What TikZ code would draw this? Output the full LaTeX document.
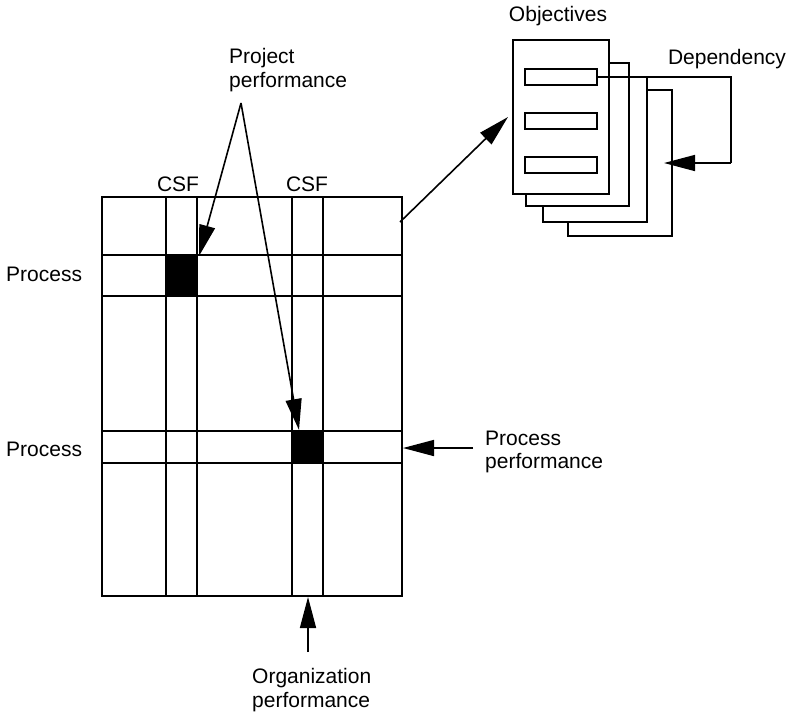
\documentclass[tikz,border=0pt]{standalone}
\usepackage{fontspec}
\setmainfont{Liberation Sans}
\usetikzlibrary{arrows.meta}
\begin{document}
\begin{tikzpicture}[x=1pt,y=-1pt,
  lbl/.style={font=\fontsize{21}{23.5}\selectfont, inner sep=0pt, align=left},
  gridline/.style={line width=2.2pt},
  ptr/.style={line width=1.6pt, -{Triangle[length=31pt,width=16pt]}},
  page/.style={draw, line width=2.2pt, fill=white, rectangle, inner sep=0pt, anchor=north west},
  slot/.style={draw, line width=2.2pt, rectangle, inner sep=0pt, minimum width=72pt, minimum height=16pt},
  cellfill/.style={fill=black},
]
\useasboundingbox (0,0) rectangle (791,716);

% ---- matrix of processes (rows) against CSFs (columns) ----
\fill[cellfill] (166,255) rectangle (197,296);
\fill[cellfill] (292,431) rectangle (323,463);
\draw[gridline] (102,197) rectangle (402,596);
\foreach \x in {166,197,292,323} \draw[gridline] (\x,197) -- (\x,596);
\foreach \y in {255,296,431,463} \draw[gridline] (102,\y) -- (402,\y);

\node[lbl, anchor=west] (proc1) at (6,274) {Process};
\node[lbl, anchor=west] (proc2) at (6,449) {Process};
\node[lbl] (csf1) at (178,184) {CSF};
\node[lbl] (csf2) at (307,184) {CSF};

% ---- stack of objective sheets ----
\node[page, minimum width=104pt, minimum height=146pt] (p4) at (567,89) {};
\node[page, minimum width=104pt, minimum height=145pt] (p3) at (542,76) {};
\node[page, minimum width=103pt, minimum height=143pt] (p2) at (525,62) {};
\node[page, minimum width=96pt, minimum height=154pt] (p1) at (512,39) {};
\node[slot] (o1) at (561,77) {};
\node[slot] (o2) at (561,121) {};
\node[slot] (o3) at (561,165) {};
\node[lbl] (objectives) at (558,16) {Objectives};
\node[lbl] (dependency) at (727,59) {Dependency};

\coordinate (depA) at (731,77);
\coordinate (depB) at (731,163);
\coordinate (depIn) at (664,163);
\draw[line width=1.6pt] (o1.east) -- (depA) -- (depB);
\draw[ptr] (depB) -- (depIn);

% ---- matrix to objectives ----
\coordinate (gridOut) at (400,222);
\coordinate (objIn) at (508,117);
\draw[ptr] (gridOut) -- (objIn);

% ---- project performance ----
\node[lbl, anchor=west] (project) at (229,70) {Project\\performance};
\coordinate (apex) at (241,103);
\coordinate (cellA) at (199,256);
\coordinate (cellB) at (299,430);
\draw[ptr] (apex) -- (cellA);
\draw[ptr] (apex) -- (cellB);

% ---- process performance ----
\node[lbl, anchor=west] (procperf) at (485,452) {Process\\performance};
\coordinate (procIn) at (403,448);
\coordinate (procFrom) at (473,448);
\draw[ptr] (procFrom) -- (procIn);

% ---- organization performance ----
\node[lbl, anchor=west] (orgperf) at (252,690) {Organization\\performance};
\coordinate (orgIn) at (308,597);
\coordinate (orgFrom) at (308,652);
\draw[ptr] (orgFrom) -- (orgIn);
\end{tikzpicture}
\end{document}
